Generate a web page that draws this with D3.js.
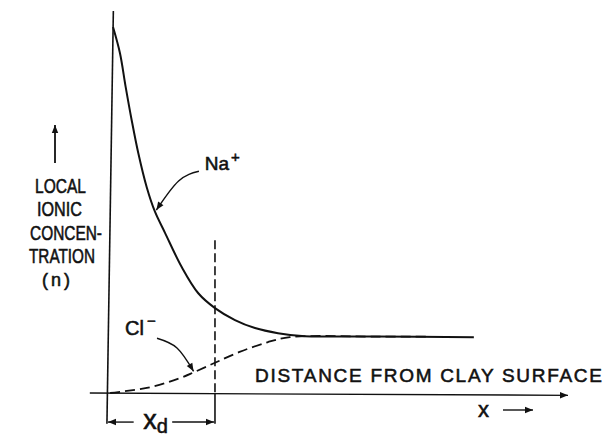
<!DOCTYPE html>
<html>
<head>
<meta charset="utf-8">
<script src="https://cdn.jsdelivr.net/npm/d3@7"></script>
<style>
  body { margin: 0; background: #fff; }
  svg { display: block; }
  text { font-family: "Liberation Sans", Arial, sans-serif; fill: #111; stroke: #111; stroke-width: 0.55px; }
</style>
</head>
<body>
<svg width="606" height="437"></svg>
<script>
// distance from clay surface (units of xd) and local concentration (units of bulk n)
var naDist = [0.047, 0.112, 0.165, 0.221, 0.283, 0.362, 0.439, 0.533, 0.689, 0.844, 1.0, 1.187, 1.374, 1.589, 1.813, 2.5, 3.42];
var naConc = [6.42, 5.96, 5.37, 4.79, 4.21, 3.61, 3.18, 2.81, 2.21, 1.75, 1.49, 1.28, 1.14, 1.05, 1.00, 0.99, 0.98];
var clDist = [0.02, 0.39, 0.67, 0.81, 1.0, 1.23, 1.49, 1.70, 2.5, 3.0];
var clConc = [0.0, 0.10, 0.26, 0.37, 0.53, 0.72, 0.89, 0.98, 0.99, 0.99];
var xd = 1.0;
var yLabelLines = ['LOCAL', 'IONIC', 'CONCEN-', 'TRATION', '(n)'];

var svg = d3.select('svg');

var x = d3.scaleLinear().domain([0, 4.3]).range([108, 568]);
var y = d3.scaleLinear().domain([0, 6.5]).range([393, 22.5]);

var line = d3
  .line()
  .x(function (d) { return x(d[0]); })
  .y(function (d) { return y(d[1]); })
  .curve(d3.curveCatmullRom.alpha(0.5));

var na = d3.zip(naDist, naConc);
var cl = d3.zip(clDist, clConc);

var defs = svg.append('defs');
defs
  .append('marker')
  .attr('id', 'head')
  .attr('viewBox', '0 0 10 10')
  .attr('refX', 10)
  .attr('refY', 5)
  .attr('markerWidth', 13)
  .attr('markerHeight', 8)
  .attr('markerUnits', 'userSpaceOnUse')
  .attr('orient', 'auto')
  .append('path')
  .attr('d', 'M0,1 L10,5 L0,9 Z')
  .style('fill', '#111');

// axes
svg
  .append('line')
  .attr('x1', x(0.05)).attr('y1', y(6.7))
  .attr('x2', x(-0.01)).attr('y2', y(-0.54))
  .style('stroke', '#111').style('stroke-width', 1.6);

svg
  .append('line')
  .attr('x1', x(-0.17)).attr('y1', y(0))
  .attr('x2', x(4.3)).attr('y2', y(-0.04))
  .style('stroke', '#111').style('stroke-width', 1.3)
  .attr('marker-end', 'url(#head)');

// xd marker line
svg
  .append('line')
  .attr('x1', x(xd)).attr('y1', y(2.68))
  .attr('x2', x(xd)).attr('y2', y(0))
  .style('stroke', '#111').style('stroke-width', 1.6)
  .style('stroke-dasharray', '9,4');
svg
  .append('line')
  .attr('x1', x(xd)).attr('y1', y(0))
  .attr('x2', x(xd)).attr('y2', y(-0.54))
  .style('stroke', '#111').style('stroke-width', 1.6);

// curves
svg
  .append('path')
  .datum(na)
  .attr('d', line)
  .style('fill', 'none').style('stroke', '#111').style('stroke-width', 2);

svg
  .append('path')
  .datum(cl)
  .attr('d', line)
  .style('fill', 'none').style('stroke', '#111').style('stroke-width', 1.8)
  .style('stroke-dasharray', '10,5');

// xd bracket
var yb = y(-0.51);
svg.append('line')
  .attr('x1', x(0.24)).attr('y1', yb).attr('x2', x(0)).attr('y2', yb)
  .style('stroke', '#111').style('stroke-width', 1.4)
  .attr('marker-end', 'url(#head)');
svg.append('line')
  .attr('x1', x(0.6)).attr('y1', yb).attr('x2', x(xd) - 1).attr('y2', yb)
  .style('stroke', '#111').style('stroke-width', 1.4)
  .attr('marker-end', 'url(#head)');
var xdText = svg.append('text')
  .attr('x', x(0.33)).attr('y', 429)
  .style('font-size', '27px');
xdText.append('tspan').text('x');
xdText.append('tspan').attr('dy', 4).style('font-size', '20px').text('d');

// annotation arrows
var arrow = d3.line().x(function (d) { return x(d[0]); }).y(function (d) { return y(d[1]); }).curve(d3.curveNatural);
svg.append('path')
  .datum([[0.85, 3.89], [0.66, 3.72], [0.452, 3.21]])
  .attr('d', arrow)
  .style('fill', 'none').style('stroke', '#111').style('stroke-width', 1.4)
  .attr('marker-end', 'url(#head)');
svg.append('path')
  .datum([[0.458, 0.96], [0.645, 0.79], [0.80, 0.38]])
  .attr('d', arrow)
  .style('fill', 'none').style('stroke', '#111').style('stroke-width', 1.4)
  .attr('marker-end', 'url(#head)');

// labels
var naText = svg.append('text').attr('x', x(0.905)).attr('y', 170).style('font-size', '19px');
naText.append('tspan').text('Na');
naText.append('tspan').attr('dx', 2).attr('dy', -8).style('font-size', '15px').text('+');

var clText = svg.append('text').attr('x', x(0.159)).attr('y', 335).style('font-size', '20px');
clText.append('tspan').text('Cl');
clText.append('tspan').attr('dx', 3).attr('dy', -9).style('font-size', '15px').text('\u2212');

svg.append('text')
  .attr('x', 255).attr('y', 382)
  .attr('textLength', 347).attr('lengthAdjust', 'spacing')
  .style('font-size', '19px')
  .text('DISTANCE FROM CLAY SURFACE');

svg.append('text')
  .attr('x', 478).attr('y', 417)
  .style('font-size', '22px')
  .text('x');
svg.append('line')
  .attr('x1', 503).attr('y1', 410).attr('x2', 533).attr('y2', 410)
  .style('stroke', '#111').style('stroke-width', 1.4)
  .attr('marker-end', 'url(#head)');

// y label
svg.append('line')
  .attr('x1', 55).attr('y1', 163).attr('x2', 55).attr('y2', 125)
  .style('stroke', '#111').style('stroke-width', 1.8)
  .attr('marker-end', 'url(#head)');

var yWidths = [51, 45, 72, 66, 28];
var yStarts = [35, 37, 30, 29, 42];
svg.append('g')
  .selectAll('text')
  .data(yLabelLines)
  .enter()
  .append('text')
  .attr('x', function (d, i) { return yStarts[i]; })
  .attr('y', function (d, i) { return 193 + i * 23.3; })
  .attr('textLength', function (d, i) { return yWidths[i]; })
  .attr('lengthAdjust', function (d) { return d === '(n)' ? 'spacing' : 'spacingAndGlyphs'; })
  .style('font-size', function (d) { return d === '(n)' ? '18px' : '20px'; })
  .text(function (d) { return d; });
</script>
</body>
</html>
